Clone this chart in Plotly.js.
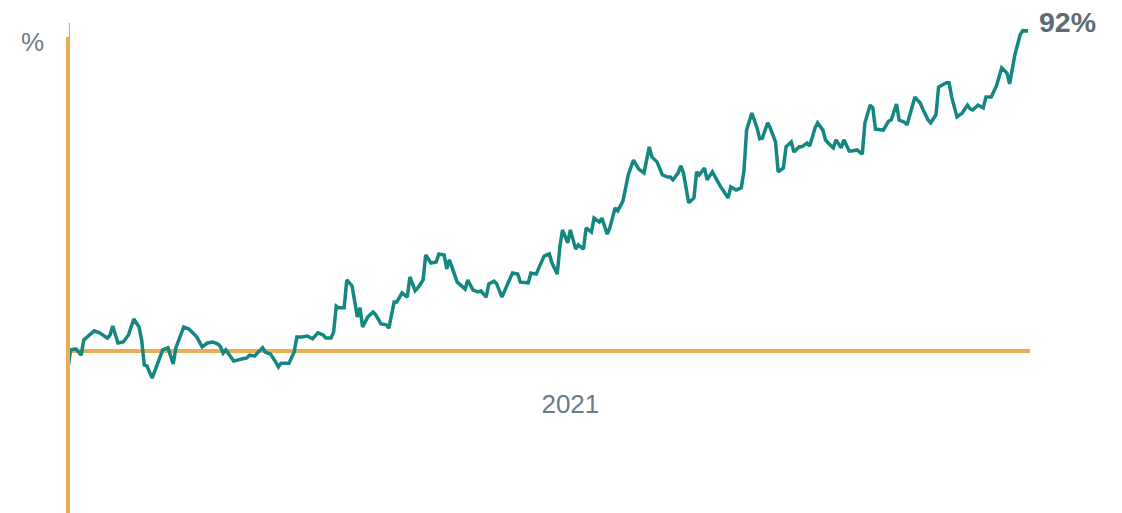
<!DOCTYPE html>
<html>
<head>
<meta charset="utf-8">
<script src="https://cdn.plot.ly/plotly-3.0.1.min.js"></script>
<style>
  html, body { margin: 0; padding: 0; background: #ffffff; }
  #chart { width: 1122px; height: 513px; }
</style>
</head>
<body>
<div id="chart"></div>
<script>
// Days elapsed since 1 Jan 2021 for each reading
var dayOffsets = [0,1,3,5,6,10,12,15,16,17,19,21,23,25,27,28,29,30,32,34,36,38,40,41,44,46,49,51,53,55,57,58,59,60,62,63,66,68,69,71,72,74,75,77,79,80,81,84,86,87,89,91,93,95,97,98,100,101,102,103,105,106,108,110,111,112,114,116,117,119,121,122,124,125,127,129,130,132,133,135,136,138,140,141,143,144,145,146,148,151,152,154,156,157,159,160,162,163,165,167,169,171,172,175,176,178,181,183,184,186,187,188,190,191,193,194,196,197,199,200,202,203,205,206,208,209,211,213,215,217,219,221,222,224,226,228,229,230,232,233,234,236,238,239,240,242,243,245,248,251,252,254,256,257,258,260,262,263,264,266,267,269,270,272,273,275,276,278,279,281,282,284,285,287,288,289,291,292,294,295,297,298,300,302,303,305,306,307,310,312,313,315,316,318,319,322,324,325,327,328,330,331,333,334,335,336,338,340,342,343,344,346,348,349,351,352,353,355,357,358,360,362,363,365];

// Cumulative change, %
var pctChange = [-4.9,0.3,0.6,-1.2,3.2,5.8,5.2,3.7,4.6,7.2,2.3,2.6,4.6,9.2,6.9,3.2,-4.0,-4.3,-7.8,-4.0,0.3,0.9,-3.7,0.9,6.9,6.3,4.0,1.2,2.3,2.6,2.0,1.2,-0.6,0.3,-1.7,-2.9,-2.3,-2.0,-1.2,-1.4,-0.6,0.9,-0.3,-0.9,-3.2,-4.6,-3.5,-3.5,-0.3,4.0,4.0,4.3,3.5,5.2,4.6,3.7,3.7,5.5,12.9,12.4,12.4,20.4,18.7,9.8,12.4,6.9,9.8,11.2,10.4,7.8,7.5,6.6,14.1,14.1,16.7,15.5,21.3,17.3,18.1,20.4,27.6,25.3,25.6,27.9,27.6,23.6,26.2,23.9,19.8,17.8,20.4,17.5,17.0,17.3,15.5,19.3,20.1,19.3,15.5,19.0,22.4,22.1,19.8,19.6,22.4,22.1,27.3,27.9,25.3,22.1,29.9,34.8,31.1,34.8,29.3,30.5,29.3,35.4,34.2,38.2,37.1,38.2,33.6,35.4,41.1,40.3,43.1,50.6,54.9,52.3,51.2,58.7,55.8,54.3,50.6,50.0,50.0,49.2,51.2,53.2,51.2,42.6,44.0,51.5,50.6,52.6,49.2,51.5,47.4,44.0,47.2,46.3,46.9,51.8,63.5,68.4,64.1,61.0,61.2,65.6,64.1,60.1,51.5,52.6,58.7,60.1,57.2,58.7,58.7,59.8,58.9,64.1,65.6,63.5,60.7,59.8,58.4,60.7,58.4,60.7,57.5,57.5,57.8,56.6,65.6,70.7,69.9,63.8,63.5,66.1,66.4,71.0,66.4,65.8,65.0,73.0,71.3,69.6,66.4,65.6,67.9,75.9,76.8,77.1,77.1,73.0,67.3,68.4,70.7,69.6,69.3,70.7,69.9,73.0,73.0,74.5,76.2,81.4,79.9,76.8,85.1,90.9,92.1,92.0];

var yearLabel = '2021';
var unitLabel = '%';

var DAY = 86400000;
var t0 = Date.UTC(2021, 0, 1);
function dayToIso(d) { return new Date(t0 + d * DAY).toISOString().slice(0, 19).replace('T', ' '); }
var dates = dayOffsets.map(dayToIso);

var teal = '#148780';
var orange = '#e9ae52';
var grey = '#6b7c86';

var lastVal = pctChange[pctChange.length - 1];
var lastDate = dates[dates.length - 1];

var trace = {
  x: dates,
  y: pctChange,
  type: 'scatter',
  mode: 'lines',
  line: { color: teal, width: 3.5 },
  hoverinfo: 'skip'
};

var layout = {
  width: 1122,
  height: 513,
  margin: { l: 68, r: 92, t: 23, b: 0 },
  paper_bgcolor: '#ffffff',
  plot_bgcolor: '#ffffff',
  showlegend: false,
  font: { family: 'Liberation Sans, Arial, sans-serif', color: grey },
  xaxis: {
    type: 'date',
    range: [dayToIso(0), dayToIso(365.76)],
    anchor: 'free',
    position: 0.3306,
    showgrid: false,
    zeroline: false,
    showline: false,
    ticks: '',
    tickmode: 'array',
    tickvals: ['2021-07-11'],
    ticktext: [yearLabel],
    tickfont: { size: 26, color: grey, family: 'Liberation Sans, Arial, sans-serif' },
    ticklabelstandoff: 35
  },
  yaxis: {
    range: [-46.58, 94.3],
    showgrid: false,
    showticklabels: false,
    ticks: '',
    showline: false,
    zeroline: true,
    zerolinecolor: orange,
    zerolinewidth: 4
  },
  shapes: [
    {
      type: 'line', xref: 'paper', yref: 'paper',
      x0: 0, x1: 0, y0: 0, y1: 0.9714,
      line: { color: orange, width: 4 }, layer: 'above'
    },
    {
      type: 'line', xref: 'paper', yref: 'paper',
      x0: 0.0015, x1: 0.0015, y0: 0.9714, y1: 1,
      line: { color: '#9fb3c2', width: 1 }, layer: 'above'
    }
  ],
  annotations: [
    {
      xref: 'paper', yref: 'paper',
      x: -0.0364, y: 0.961,
      xanchor: 'center', yanchor: 'middle',
      text: unitLabel, showarrow: false,
      font: { size: 26, color: grey, family: 'Liberation Sans, Arial, sans-serif' }
    },
    {
      x: lastDate, y: lastVal,
      xanchor: 'left', yanchor: 'middle',
      xshift: 9, yshift: 9,
      text: '<b>' + Math.round(lastVal) + '%</b>', showarrow: false,
      font: { size: 28.5, color: '#5e6b74', family: 'Liberation Sans, Arial, sans-serif' }
    }
  ]
};

Plotly.newPlot('chart', [trace], layout, { staticPlot: true, displayModeBar: false });
</script>
</body>
</html>
